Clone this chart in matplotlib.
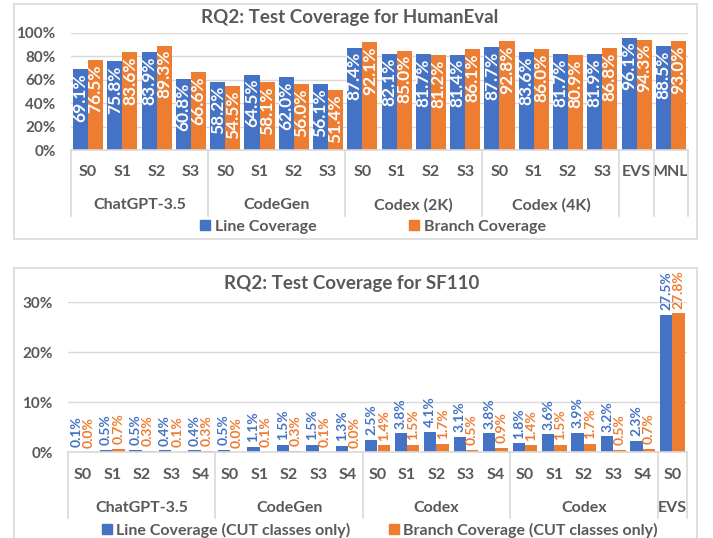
import numpy as np
import matplotlib
matplotlib.use('Agg')
import matplotlib.pyplot as plt
from matplotlib.patches import Rectangle, Patch
from matplotlib.lines import Line2D
from matplotlib import transforms

# ---- data: HumanEval ----
he_cats = ['S0', 'S1', 'S2', 'S3', 'S0', 'S1', 'S2', 'S3', 'S0', 'S1', 'S2', 'S3',
           'S0', 'S1', 'S2', 'S3', 'EVS', 'MNL']
he_groups = ['ChatGPT-3.5', 'CodeGen', 'Codex (2K)', 'Codex (4K)']
he_group_sizes = [4, 4, 4, 4, 1, 1]
he_line = [69.1, 75.8, 83.9, 60.8, 58.2, 64.5, 62.0, 56.1, 87.4, 82.1, 81.7, 81.4,
           87.7, 83.6, 81.7, 81.9, 96.1, 88.5]
he_branch = [76.5, 83.6, 89.3, 66.6, 54.5, 58.1, 56.0, 51.4, 92.1, 85.0, 81.2, 86.1,
             92.8, 86.0, 80.9, 86.8, 94.3, 93.0]

# ---- data: SF110 ----
sf_cats = ['S0', 'S1', 'S2', 'S3', 'S4'] * 4 + ['S0']
sf_groups = ['ChatGPT-3.5', 'CodeGen', 'Codex', 'Codex', 'EVS']
sf_group_sizes = [5, 5, 5, 5, 1]
sf_line = [0.1, 0.5, 0.5, 0.4, 0.4, 0.5, 1.1, 1.5, 1.5, 1.3, 2.5, 3.8, 4.1, 3.1, 3.8,
           1.8, 3.6, 3.9, 3.2, 2.3, 27.5]
sf_branch = [0.0, 0.7, 0.3, 0.1, 0.3, 0.0, 0.1, 0.3, 0.1, 0.0, 1.4, 1.5, 1.7, 0.5, 0.9,
             1.4, 1.5, 1.7, 0.5, 0.7, 27.8]

BLUE = '#4472C4'
ORANGE = '#ED7D31'
TXT = '#595959'
GRID = '#d9d9d9'

plt.rcParams['font.family'] = ['Lato', 'DejaVu Sans']
plt.rcParams['font.weight'] = 'bold'

W, H = 713, 538
fig = plt.figure(figsize=(W / 100, H / 100), dpi=100)


def fx(px):
    return px / W


def fy(py):
    return 1 - py / H


# outer frames
fig.patches.append(Rectangle((fx(14), fy(239)), fx(697) - fx(14), (239 - 4) / H,
                             transform=fig.transFigure, fill=False, edgecolor=GRID, lw=1.2))
fig.patches.append(Rectangle((fx(14), fy(560)), fx(697) - fx(14), (560 - 268) / H,
                             transform=fig.transFigure, fill=False, edgecolor=GRID, lw=1.2))


def draw_chart(ax, line, branch, cats, groups, sizes, ymax, ystep, width,
               inside, cat_y, grp_y, sep_bottom, label_size):
    n = len(cats)
    x = np.arange(n)
    ax.bar(x - width / 2, line, width, color=BLUE, zorder=3)
    ax.bar(x + width / 2, branch, width, color=ORANGE, zorder=3)
    ax.set_xlim(-0.5, n - 0.5)
    ax.set_ylim(0, ymax)
    ax.set_yticks(np.arange(0, ymax + 0.01, ystep))
    ax.set_yticklabels(['%d%%' % v for v in np.arange(0, ymax + 0.01, ystep)])
    ax.set_xticks([])
    for s in ax.spines.values():
        s.set_visible(False)
    ax.tick_params(axis='y', length=0, pad=11, labelsize=11, labelcolor=TXT)
    ax.grid(axis='y', color=GRID, lw=1, zorder=0)
    ax.set_axisbelow(True)

    # value labels
    for xs, vals, col in [(x - width / 2, line, BLUE), (x + width / 2, branch, ORANGE)]:
        for xi, v in zip(xs, vals):
            if inside:
                ax.annotate('%.1f%%' % v, (xi, v), xytext=(0, -3), textcoords='offset points',
                            rotation=90, ha='center', va='top', color='white',
                            fontsize=label_size, fontweight='bold', zorder=4)
            else:
                ax.annotate('%.1f%%' % v, (xi, v), xytext=(0, 3), textcoords='offset points',
                            rotation=90, ha='center', va='bottom', color=col,
                            fontsize=label_size, fontweight='bold', zorder=4,
                            annotation_clip=False)

    trans = transforms.blended_transform_factory(ax.transData, fig.transFigure)
    for xi, c in zip(x, cats):
        ax.text(xi, fy(cat_y), c, transform=trans, ha='center', va='center',
                fontsize=11.5, color=TXT, fontweight='bold')

    # group labels and separators
    start = 0
    seps = [-0.5]
    for i, sz in enumerate(sizes):
        if i < len(groups):
            ax.text(start + (sz - 1) / 2, fy(grp_y), groups[i], transform=trans,
                    ha='center', va='center', fontsize=11.5, color=TXT, fontweight='bold')
        start += sz
        seps.append(start - 0.5)
    ax0 = ax.transData.transform((0, 0))[1] / fig.bbox.height
    for s in seps:
        fig.add_artist(Line2D([s, s], [ax0, fy(sep_bottom)], transform=trans,
                              color=GRID, lw=1.2))
    fig.add_artist(Line2D([-0.5, n - 0.5], [ax0, ax0], transform=trans, color=GRID, lw=1.2))


# ---- top chart ----
ax1 = fig.add_axes([fx(71), fy(150), fx(688) - fx(71), (150 - 33) / H])
draw_chart(ax1, he_line, he_branch, he_cats, he_groups, he_group_sizes, 100, 20, 0.44,
           True, 172, 205, 216, 12.5)
fig.text(fx(350), fy(18), 'RQ2: Test Coverage for HumanEval', ha='center', va='center',
         fontsize=13.5, color=TXT, fontweight='bold')
fig.legend([Patch(color=BLUE), Patch(color=ORANGE)], ['Line Coverage', 'Branch Coverage'],
           loc='center', bbox_to_anchor=(fx(373), fy(227)), ncol=2, frameon=False,
           handlelength=0.6, handleheight=0.6, handletextpad=0.3, columnspacing=5.8,
           prop={'size': 11.5, 'weight': 'bold'}, labelcolor=TXT, borderpad=0)

# ---- bottom chart ----
ax2 = fig.add_axes([fx(68), fy(452), fx(687) - fx(68), (452 - 302) / H])
draw_chart(ax2, sf_line, sf_branch, sf_cats, sf_groups, sf_group_sizes, 30, 10, 0.42,
           False, 475, 508, 518, 10)
fig.text(fx(352), fy(283), 'RQ2: Test Coverage for SF110', ha='center', va='center',
         fontsize=13.5, color=TXT, fontweight='bold')
fig.legend([Patch(color=BLUE), Patch(color=ORANGE)],
           ['Line Coverage (CUT classes only)', 'Branch Coverage (CUT classes only)'],
           loc='center', bbox_to_anchor=(fx(380), fy(530)), ncol=2, frameon=False,
           handlelength=0.6, handleheight=0.6, handletextpad=0.3, columnspacing=2.4,
           prop={'size': 11.5, 'weight': 'bold'}, labelcolor=TXT, borderpad=0)

fig.savefig('out.png', dpi=100)
